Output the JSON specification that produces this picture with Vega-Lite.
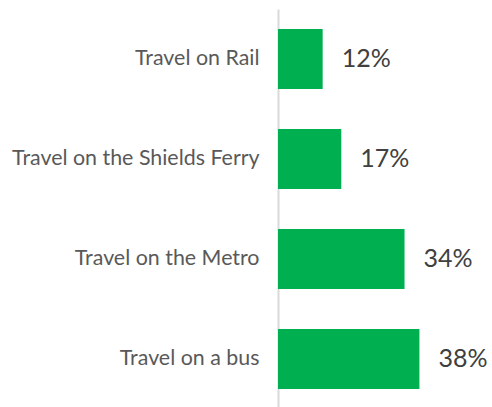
{
  "$schema": "https://vega.github.io/schema/vega-lite/v6.json",
  "autosize": {"type": "none"},
  "padding": {"left": 278, "top": 9, "right": 0, "bottom": 0},
  "width": 214,
  "height": 400,
  "background": "white",
  "config": {"view": {"stroke": null}},
  "data": {
    "values": [
      {"mode": "Travel on Rail", "pct": 0.12},
      {"mode": "Travel on the Shields Ferry", "pct": 0.17},
      {"mode": "Travel on the Metro", "pct": 0.34},
      {"mode": "Travel on a bus", "pct": 0.38}
    ]
  },
  "encoding": {
    "y": {
      "field": "mode",
      "type": "nominal",
      "sort": null,
      "scale": {"paddingInner": 0.4, "paddingOuter": 0.2},
      "axis": {
        "title": null,
        "ticks": false,
        "labelPadding": 19,
        "labelLimit": 400,
        "labelFont": "Lato",
        "labelFontSize": 21.4,
        "labelColor": "#595959",
        "domainColor": "#D9D9D9",
        "domainWidth": 2
      }
    },
    "x": {
      "field": "pct",
      "type": "quantitative",
      "scale": {"domain": [0, 0.575]},
      "axis": null
    }
  },
  "layer": [
    {"mark": {"type": "bar", "color": "#00B050"}},
    {
      "mark": {"type": "text", "align": "left", "baseline": "middle", "dx": 19, "font": "Lato", "fontSize": 25, "color": "#404040"},
      "encoding": {"text": {"field": "pct", "type": "quantitative", "format": ".0%"}}
    }
  ]
}
